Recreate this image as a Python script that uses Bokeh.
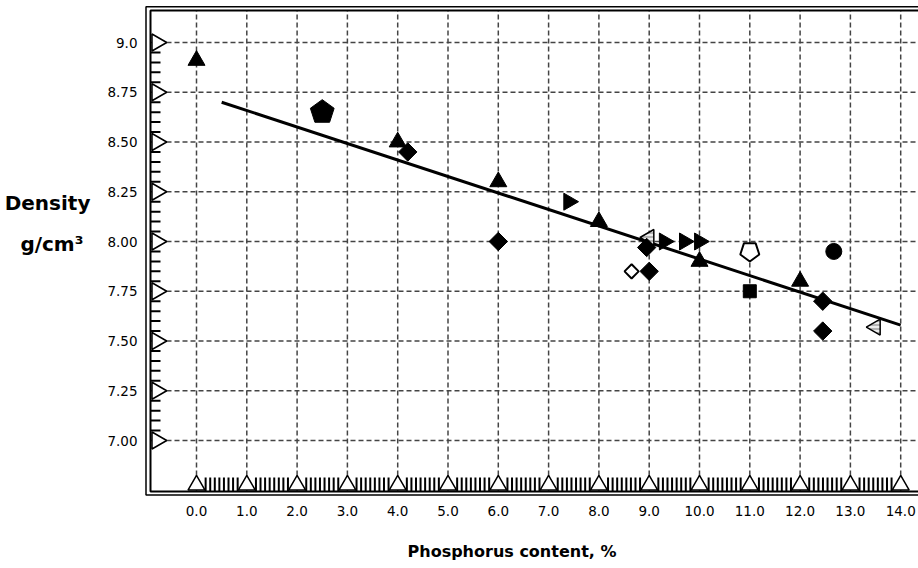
import numpy as np
from bokeh.plotting import figure
from bokeh.models import FixedTicker, BoxAnnotation, Range1d
from bokeh.embed import file_html
from bokeh.resources import INLINE

# ---------------- data ----------------
x_ticks = [0, 1, 2, 3, 4, 5, 6, 7, 8, 9, 10, 11, 12, 13, 14]
x_tick_labels = ["0.0", "1.0", "2.0", "3.0", "4.0", "5.0", "6.0", "7.0",
                 "8.0", "9.0", "10.0", "11.0", "12.0", "13.0", "14.0"]
y_ticks = [7.0, 7.25, 7.5, 7.75, 8.0, 8.25, 8.5, 8.75, 9.0]
y_tick_labels = ["7.00", "7.25", "7.50", "7.75", "8.00", "8.25", "8.50", "8.75", "9.0"]

tri_up_x = [0.0, 4.0, 6.0, 8.0, 10.0, 12.0]
tri_up_y = [8.91, 8.50, 8.30, 8.10, 7.90, 7.80]

tri_right_x = [7.4, 9.3, 9.7, 10.0]
tri_right_y = [8.20, 8.00, 8.00, 8.00]

tri_left_x = [9.0, 13.5]
tri_left_y = [8.02, 7.57]

diamond_x = [4.2, 6.0, 8.95, 9.0, 12.45, 12.45]
diamond_y = [8.45, 8.00, 7.97, 7.85, 7.70, 7.55]

open_diamond_x = [8.65]
open_diamond_y = [7.85]

pent_fill_x = [2.5]
pent_fill_y = [8.65]

pent_open_x = [11.0]
pent_open_y = [7.95]

square_x = [11.0]
square_y = [7.75]

circle_x = [12.67]
circle_y = [7.95]

fit_x = [0.5, 14.0]
fit_y = [8.70, 7.58]

x_minor = [i + k / 11 for i in range(14) for k in range(2, 10)]
y_minor = [7.0 + 0.05 * j for j in range(41) if j % 5 != 0]

# ---------------- layout ----------------
W, H = 918, 568
FL, FT, FB = 144, 4, 497          # frame left / top / bottom (px)
FW = W - FL
FH = FB - FT
PX = 50.3      # px per x unit
PY = 199.0     # px per y unit
X0 = (FL - 196) / PX
X1 = X0 + FW / PX
Y1 = 9.0 + (42 - FT) / PY
Y0 = Y1 - FH / PY


def sx(px):
    return X0 + (px - FL) / PX


def sy(py):
    return Y1 - (py - FT) / PY


XI, YIT, YIB = sx(150), sy(10), sy(491)   # inner frame line

p = figure(width=W, height=H, output_backend="svg", toolbar_location=None,
           x_range=Range1d(X0, X1), y_range=Range1d(Y0, Y1),
           min_border_left=FL, min_border_right=0, min_border_top=FT,
           min_border_bottom=H - FB, title=None)
p.background_fill_color = "white"
p.border_fill_color = "white"
p.outline_line_color = None
p.xgrid.visible = False
p.ygrid.visible = False

FONT = "DejaVu Sans"

# axes (labels only)
p.xaxis.ticker = FixedTicker(ticks=x_ticks)
p.xaxis.major_label_overrides = {t: s for t, s in zip(x_ticks, x_tick_labels)}
p.yaxis.ticker = FixedTicker(ticks=y_ticks)
p.yaxis.major_label_overrides = {t: s for t, s in zip(y_ticks, y_tick_labels)}
for ax in (p.xaxis, p.yaxis):
    ax.axis_line_color = None
    ax.major_tick_line_color = None
    ax.minor_tick_line_color = None
    ax.major_tick_in = 0
    ax.major_tick_out = 0
    ax.minor_tick_in = 0
    ax.minor_tick_out = 0
    ax.major_label_text_font = FONT
    ax.major_label_text_font_size = "13.5px"
    ax.major_label_text_color = "#000000"
    ax.axis_label_text_font = FONT
    ax.axis_label_text_font_style = "bold"
    ax.axis_label_text_color = "#000000"
p.xaxis.major_label_standoff = 8
p.yaxis.major_label_standoff = 7

p.yaxis.axis_label = "Density\n \n \ng/cm³ \n \n \n \n "
p.yaxis.axis_label_orientation = "horizontal"
p.yaxis.axis_label_text_font_size = "20px"
p.yaxis.axis_label_text_line_height = 0.571
p.yaxis.axis_label_standoff = 14

# x title (trailing no-break spaces shift it left of the frame centre, as in the original)
p.xaxis.axis_label = "Phosphorus content, %" + "\u00a0" * 7
p.xaxis.axis_label_text_font_size = "16px"
p.xaxis.axis_label_standoff = 23

# dashed grid
GRID = dict(line_color="#444444", line_width=1.5, line_dash="5 3")
p.segment(x0=x_ticks, y0=[YIB] * len(x_ticks), x1=x_ticks, y1=[YIT] * len(x_ticks), **GRID)
p.segment(x0=[XI] * len(y_ticks), y0=y_ticks, x1=[X1] * len(y_ticks), y1=y_ticks, **GRID)

# minor ticks
p.segment(x0=x_minor, y0=[YIB] * len(x_minor), x1=x_minor,
          y1=[YIB + 14 / PY] * len(x_minor), line_color="black", line_width=2)
p.segment(x0=[XI] * len(y_minor), y0=y_minor, x1=[XI + 10 / PX] * len(y_minor),
          y1=y_minor, line_color="black", line_width=2)

# axis decoration triangles
TS = 17
off = (TS / 2 * np.sqrt(3) / 3 + 1.5)
p.scatter([XI + off / PX] * len(y_ticks), y_ticks, marker="triangle", size=TS,
          angle=-np.pi / 2, fill_color="white", line_color="black", line_width=1.5)
p.scatter(x_ticks, [YIB + off / PY] * len(x_ticks), marker="triangle", size=TS,
          fill_color="white", line_color="black", line_width=1.5)

# fit line
p.line(fit_x, fit_y, line_color="black", line_width=3)

# points
p.scatter(tri_left_x, tri_left_y, marker="triangle", size=16, angle=np.pi / 2,
          fill_color="#b4b4b4", line_color="black", line_width=1.5,
          hatch_pattern="horizontal_line", hatch_color="white", hatch_scale=4,
          hatch_weight=1.5)
p.scatter(tri_up_x, tri_up_y, marker="triangle", size=17, color="black")
p.scatter(diamond_x, diamond_y, marker="square", angle=np.pi / 4, size=13, color="black")
p.scatter(tri_right_x, tri_right_y, marker="triangle", size=17, angle=-np.pi / 2,
          color="black")
p.scatter(open_diamond_x, open_diamond_y, marker="square", angle=np.pi / 4, size=10,
          fill_color="white", line_color="black", line_width=2)
p.scatter(square_x, square_y, marker="square", size=13, color="black")
p.scatter(circle_x, circle_y, marker="circle", size=16, color="black")


def pentagon(cx, cy, r, up=True):
    th = np.arange(5) * 2 * np.pi / 5
    sgn = 1 if up else -1
    return list(cx + r * np.sin(th) / PX), list(cy + sgn * r * np.cos(th) / PY)


xs, ys = zip(*[pentagon(a, b, 12.5, True) for a, b in zip(pent_fill_x, pent_fill_y)])
p.patches(list(xs), list(ys), fill_color="black", line_color="black", line_width=1)
xs, ys = zip(*[pentagon(a, b, 10, False) for a, b in zip(pent_open_x, pent_open_y)])
p.patches(list(xs), list(ys), fill_color="white", line_color="black", line_width=2)

# double frame
p.add_layout(BoxAnnotation(left=XI, right=X1 + 1, bottom=YIB, top=YIT,
                           fill_color=None, line_color="black", line_alpha=1.0,
                           line_width=2))
p.add_layout(BoxAnnotation(left=sx(145.5), right=X1 + 2, bottom=sy(494.5), top=sy(6.3),
                           fill_color=None, line_color="black", line_alpha=1.0,
                           line_width=1.5))

open("out.html", "w").write(file_html(p, INLINE))
